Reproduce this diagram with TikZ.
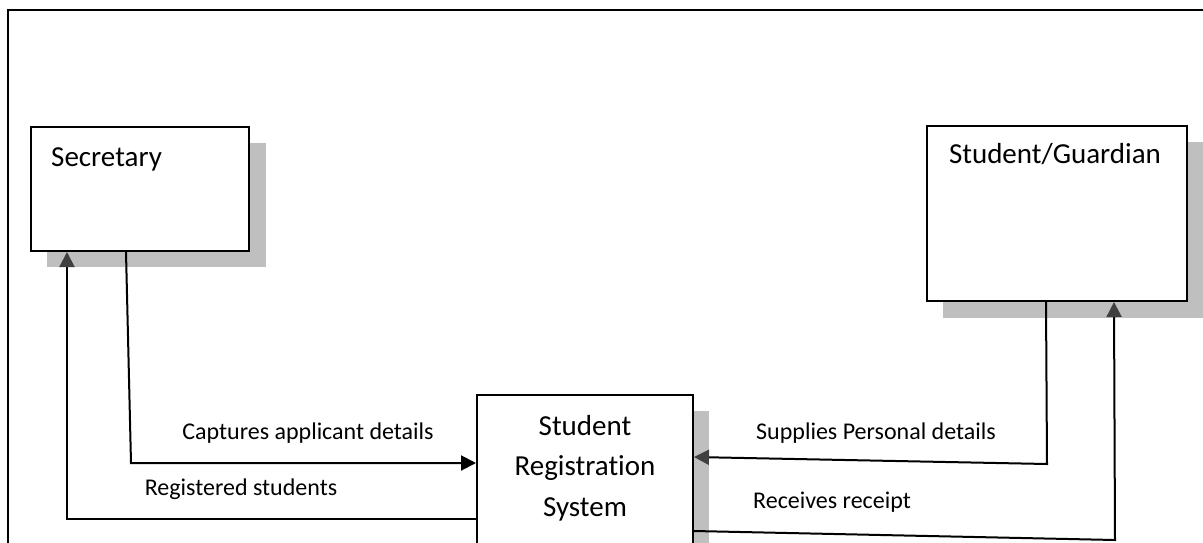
\documentclass[tikz,border=0pt]{standalone}
\usepackage{fontspec}
\setmainfont{Carlito}[Ligatures=NoCommon]
\usetikzlibrary{arrows.meta}
\definecolor{shadowgray}{RGB}{191,191,191}
\definecolor{tipgray}{RGB}{64,64,64}
\begin{document}
\begin{tikzpicture}[x=1pt,y=-1pt,
  entity/.style={draw, line width=2pt, fill=white, rectangle, inner sep=0pt},
  boxshadow/.style={fill=shadowgray, draw=none},
  nodetext/.style={font=\fontsize{29}{40.5}\selectfont, inner sep=0pt},
  flowlabel/.style={font=\fontsize{24}{29}\selectfont, inner sep=0pt},
  flow/.style={line width=2pt, -{Triangle[length=15pt,width=15pt,color=tipgray]}},
  blackflow/.style={line width=2pt, -{Triangle[length=15pt,width=15pt,color=black]}}]
\useasboundingbox (0,0) rectangle (1203,542);
\fill[white] (0,0) rectangle (1203,542);

% outer frame (left and top edges)
\draw[line width=2.5pt] (8,560) -- (8,10) -- (1215,10);

% drop shadows
\fill[boxshadow] (47,143) rectangle (266,267);
\fill[boxshadow] (943,142) rectangle (1215,318);
\fill[boxshadow] (493,411) rectangle (709,570);

% external entities and the process
\node[entity, minimum width=218pt, minimum height=124pt] (sec) at (140,189) {};
\node[entity, minimum width=260pt, minimum height=175pt] (sg) at (1057,213.5) {};
\node[entity, minimum width=216pt, minimum height=165pt] (srs) at (585,477.5) {};

\node[nodetext, anchor=base west] (sectext) at (51,166) {Secretary};
\node[nodetext, anchor=base] (sgtext) at (1055,163) {Student/Guardian};
\node[nodetext, align=center] (srstext) at (585,468) {Student\\Registration\\System};

% data flows
\draw[blackflow] ([xshift=96pt]sec.south west) -- (131,463) -- (srs.west |- 0,463);
\draw[flow] (srs.west |- 0,519) -| ([xshift=37pt]sec.south west);
\draw[flow] ([xshift=120pt]sg.south west) -- (1047,464) -- (srs.east |- 0,457);
\draw[flow] (srs.east |- 0,531) -- (1115,540) -- ([xshift=188pt]sg.south west);

% flow labels
\node[flowlabel] (lcap) at (308,433) {Captures applicant details};
\node[flowlabel] (lreg) at (241,489) {Registered students};
\node[flowlabel] (lsup) at (876,433) {Supplies Personal details};
\node[flowlabel] (lrec) at (832,502) {Receives receipt};
\end{tikzpicture}
\end{document}
